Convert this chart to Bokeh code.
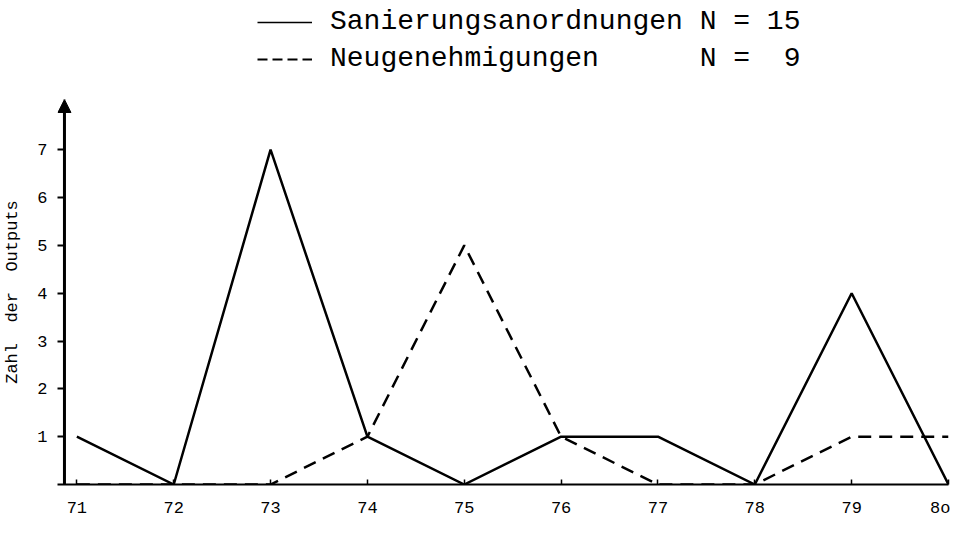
from bokeh.plotting import figure
from bokeh.layouts import column
from bokeh.models import (Range1d, FixedTicker, Legend, LegendItem, Arrow, NormalHead)
from bokeh.embed import file_html
from bokeh.resources import INLINE

# ---- data ----
years = [71, 72, 73, 74, 75, 76, 77, 78, 79, 80]
x_labels = ["71", "72", "73", "74", "75", "76", "77", "78", "79", "8o"]
sanierung = [1, 0, 7, 1, 0, 1, 1, 0, 4, 0]
neugenehmigung = [0, 0, 0, 1, 5, 1, 0, 0, 1, 1]
y_ticks = [1, 2, 3, 4, 5, 6, 7]
label_s = "Sanierungsanordnungen N = 15"
label_n = "Neugenehmigungen\u00a0\u00a0\u00a0\u00a0\u00a0\u00a0N =\u00a0\u00a09"
y_title = "Zahl\u00a0\u00a0der\u00a0\u00a0Outputs"

FONT = "Liberation Mono"
SOLID = dict(line_color="black", line_width=2.5)
DASHED = dict(line_color="black", line_width=2.5, line_dash="13 8")

W = 950
LEG_H = 92
MAIN_H = 428

# ---------- legend strip (series drawn off-view, only the legend shows) ----------
pl = figure(width=W, height=LEG_H, output_backend="svg", toolbar_location=None,
            x_range=Range1d(0, 1), y_range=Range1d(100, 101),
            x_axis_type=None, y_axis_type=None,
            min_border=0, min_border_left=0, min_border_right=0,
            min_border_top=0, min_border_bottom=0)
pl.outline_line_color = None
pl.grid.grid_line_color = None
l1 = pl.line(years, sanierung, line_color="black", line_width=1.6)
l2 = pl.line(years, neugenehmigung, line_color="black", line_width=2,
             line_dash="10 5")
legend = Legend(items=[LegendItem(label=label_s, renderers=[l1]),
                       LegendItem(label=label_n, renderers=[l2])],
                location=(200, 18))
legend.label_text_font = FONT
legend.label_text_font_size = "28px"
legend.label_text_color = "black"
legend.glyph_width = 55
legend.label_standoff = 18
legend.spacing = 6
legend.padding = 0
legend.margin = 0
legend.border_line_color = None
legend.background_fill_alpha = 0
pl.add_layout(legend)

# ---------- main chart ----------
x0, x1 = 70.8, 80.0
y0, y1 = 0, 8.05
px_per_x = (W - 52 - 2) / (x1 - x0)
axis_x = x0 + 7 / px_per_x

p = figure(width=W, height=MAIN_H, output_backend="svg", toolbar_location=None,
           x_range=Range1d(x0, x1), y_range=Range1d(y0, y1),
           min_border_left=52, min_border_right=2, min_border_top=7,
           min_border_bottom=34)
p.outline_line_color = None
p.grid.grid_line_color = None

p.line(years, sanierung, **SOLID)
p.line(years, neugenehmigung, **DASHED)

# x axis
xa = p.xaxis[0]
xa.ticker = FixedTicker(ticks=years)
xa.major_label_overrides = {y: l for y, l in zip(years, x_labels)}
xa.axis_line_width = 2
xa.axis_line_color = "black"
xa.major_tick_in = 5
xa.major_tick_out = 0
xa.major_tick_line_width = 1.5
xa.minor_tick_line_color = None
xa.major_label_standoff = 14
xa.major_label_text_font = FONT
xa.major_label_text_font_size = "17px"
xa.major_label_text_color = "black"

# y axis (line drawn as arrow; ticks point inward to the arrow line)
ya = p.yaxis[0]
ya.ticker = FixedTicker(ticks=y_ticks)
ya.axis_line_color = None
ya.major_tick_in = 7
ya.major_tick_out = 0
ya.major_tick_line_width = 2
ya.minor_tick_line_color = None
ya.major_label_standoff = 10
ya.major_label_text_font = FONT
ya.major_label_text_font_size = "17px"
ya.major_label_text_color = "black"
ya.axis_label = y_title
ya.axis_label_text_font = FONT
ya.axis_label_text_font_size = "17px"
ya.axis_label_text_font_style = "normal"
ya.axis_label_text_color = "black"
ya.axis_label_standoff = 12

p.add_layout(Arrow(end=NormalHead(size=13, fill_color="black", line_color="black"),
                   x_start=axis_x, y_start=y0, x_end=axis_x, y_end=y1,
                   line_color="black", line_width=3))

layout = column(pl, p, spacing=0)
open("out.html", "w").write(file_html(layout, INLINE))
